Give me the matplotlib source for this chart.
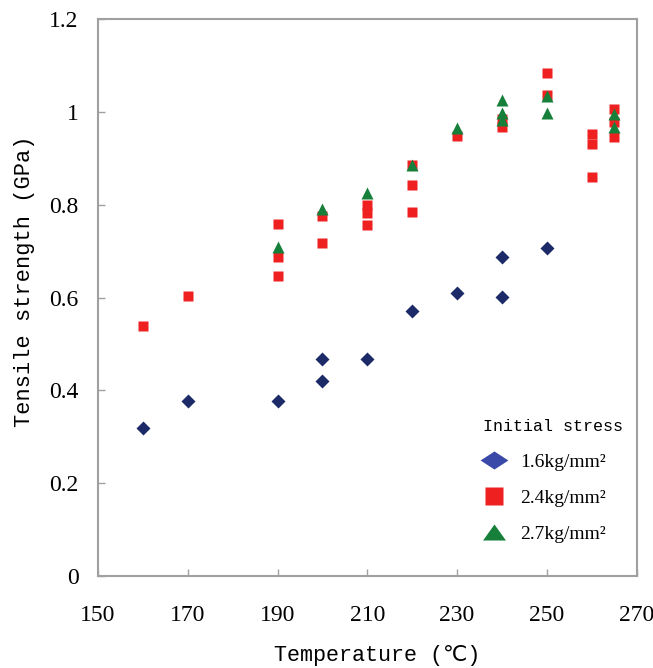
import numpy as np
import matplotlib.pyplot as plt
from matplotlib.lines import Line2D

# 1.6 kg/mm2
t_16 = [160, 170, 190, 200, 200, 210, 220, 230, 240, 240, 250]
s_16 = [0.318, 0.376, 0.376, 0.467, 0.421, 0.467, 0.572, 0.610, 0.687, 0.601, 0.707]

# 2.4 kg/mm2
t_24 = [160, 170, 190, 190, 190, 200, 200, 210, 210, 210, 220, 220, 220,
        230, 240, 240, 250, 250, 260, 260, 260, 265, 265, 265]
s_24 = [0.539, 0.603, 0.758, 0.688, 0.646, 0.776, 0.718, 0.799, 0.783, 0.757,
        0.886, 0.842, 0.784, 0.949, 0.985, 0.967, 1.084, 1.037, 0.952, 0.931,
        0.861, 1.007, 0.978, 0.947]

# 2.7 kg/mm2
t_27 = [190, 200, 210, 220, 230, 240, 240, 240, 250, 250, 265, 265]
s_27 = [0.710, 0.792, 0.825, 0.885, 0.965, 1.027, 0.998, 0.983, 1.035, 0.999,
        0.996, 0.968]

labels = ['1.6kg/mm²', '2.4kg/mm²', '2.7kg/mm²']
xticks = [150, 170, 190, 210, 230, 250, 270]
yticks = [0, 0.2, 0.4, 0.6, 0.8, 1, 1.2]
yticklabels = ['0', '0.2', '0.4', '0.6', '0.8', '1', '1.2']

blue = '#1c2b68'
red = '#ee2020'
green = '#16803a'
grey = '#a0a0a0'
mono = ['Liberation Mono', 'DejaVu Sans Mono', 'DejaVu Sans']
serif = ['Liberation Serif', 'DejaVu Serif']

fig = plt.figure(figsize=(6.53, 6.68), dpi=100)
ax = fig.add_axes([0.150, 0.138, 0.825, 0.833])

ax.plot(t_16, s_16, 'D', color=blue, ms=6.8, mec='none', ls='none')
ax.plot(t_24, s_24, 's', color=red, ms=7.5, mec='none', ls='none')
ax.plot(t_27, s_27, '^', color=green, ms=9, mec='none', ls='none')

ax.set_xlim(150, 270)
ax.set_ylim(0, 1.2)
ax.set_xticks(xticks)
ax.set_yticks(yticks)
ax.set_yticklabels(yticklabels)
for lab in ax.get_xticklabels() + ax.get_yticklabels():
    lab.set_family(serif)
    lab.set_fontsize(17)
ax.tick_params(axis='x', direction='in', length=5, width=1, color=grey, pad=21)
ax.tick_params(axis='y', direction='in', length=5, width=1, color=grey, pad=14)
for sp in ax.spines.values():
    sp.set_color(grey)
    sp.set_linewidth(1.5)

ax.set_xlabel('Temperature (℃)', family=mono, fontsize=15.7)
ax.set_ylabel('Tensile strength (GPa)', family=mono, fontsize=15.8)
ax.xaxis.set_label_coords(0.519, -0.125)
ax.yaxis.set_label_coords(-0.117, 0.529)

flat_diamond = [(-1, 0), (0, 0.65), (1, 0), (0, -0.65), (-1, 0)]
flat_triangle = [(-1, -0.7), (1, -0.7), (0, 0.7), (-1, -0.7)]
handles = [
    Line2D([], [], marker=flat_diamond, color='#3a48a8', ms=20, mec='none', ls='none'),
    Line2D([], [], marker='s', color=red, ms=13, mec='none', ls='none'),
    Line2D([], [], marker=flat_triangle, color=green, ms=16.5, mec='none', ls='none'),
]
leg = ax.legend(handles, labels, loc='lower right',
                bbox_to_anchor=(0.976, 0.028), frameon=False,
                prop={'family': serif, 'size': 14},
                handletextpad=0.35, labelspacing=0.95)
ax.text(0.974, 0.268, 'Initial stress', transform=ax.transAxes,
        ha='right', va='center', family=mono, fontsize=12)

fig.savefig('out.png', dpi=100)
